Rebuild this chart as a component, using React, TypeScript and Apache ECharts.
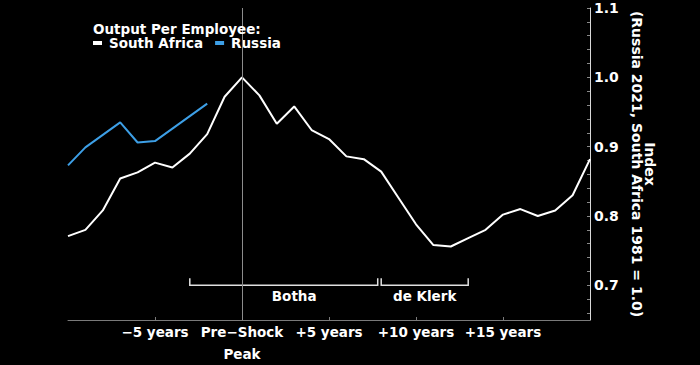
import React, { useEffect, useRef } from "react";
import * as echarts from "echarts";

const years = [-10, -9, -8, -7, -6, -5, -4, -3, -2, -1, 0, 1, 2, 3, 4, 5, 6, 7, 8, 9, 10, 11, 12, 13, 14, 15, 16, 17, 18, 19, 20];
const southAfrica = [0.771, 0.780, 0.808, 0.854, 0.863, 0.877, 0.870, 0.890, 0.918, 0.972, 1.0, 0.974, 0.933, 0.958, 0.924, 0.911, 0.886, 0.882, 0.864, 0.826, 0.788, 0.758, 0.756, 0.768, 0.780, 0.802, 0.810, 0.800, 0.808, 0.830, 0.882];
const russiaYears = [-10, -9, -8, -7, -6, -5, -4, -3, -2];
const russia = [0.873, 0.899, 0.917, 0.935, 0.906, 0.908, 0.926, 0.944, 0.962];

const xTickValues = [-5, 0, 5, 10, 15];
const xTickLabels = ["\u22125 years", "Pre\u2212Shock\nPeak", "+5 years", "+10 years", "+15 years"];
const yLabelValues = [0.7, 0.8, 0.9, 1.0, 1.1];
const yMinorTicks = [0.66, 0.68, 0.7, 0.72, 0.74, 0.76, 0.78, 0.8, 0.82, 0.84, 0.86, 0.88, 0.9, 0.92, 0.94, 0.96, 0.98, 1.0, 1.02, 1.04, 1.06, 1.08, 1.1];

const bracketNames = ["Botha", "de Klerk"];
const bracketStart = [-3, 8];
const bracketEnd = [7.8, 13];
const bracketLabelAt = [3, 10.5];

const FONT = '"DejaVu Sans", Verdana, sans-serif';

export default function App() {
  const ref = useRef<HTMLDivElement>(null);
  useEffect(() => {
    if (!ref.current) return;
    const chart = echarts.init(ref.current, null, { renderer: "svg" });
    const txt = { color: "#ffffff", fontFamily: FONT, fontWeight: "bold" as const, fontSize: 13.5 };
    chart.setOption({
      animation: false,
      backgroundColor: "#000000",
      title: {
        text: "Output Per Employee:",
        left: 93,
        top: 22,
        padding: 0,
        textStyle: { ...txt, lineHeight: 13 },
      },
      legend: {
        left: 93,
        top: 36,
        padding: 0,
        icon: "rect",
        itemWidth: 9,
        itemHeight: 4,
        itemGap: 12,
        textStyle: { ...txt, lineHeight: 13, padding: [0, 0, 0, 2] },
        data: ["South Africa", "Russia"],
      },
      grid: { left: 68, right: 110, top: 8, bottom: 41, containLabel: false },
      xAxis: {
        type: "value",
        min: -10,
        max: 20,
        interval: 5,
        axisLine: { show: true, onZero: false, lineStyle: { color: "#7a7a7a", width: 1 } },
        axisTick: { show: true, inside: true, length: 3, customValues: xTickValues, lineStyle: { color: "#7a7a7a" } },
        splitLine: { show: false },
        axisLabel: {
          ...txt,
          margin: 1,
          lineHeight: 22,
          customValues: xTickValues,
          formatter: (v: number) => {
            const i = xTickValues.indexOf(v);
            return i >= 0 ? xTickLabels[i] : "";
          },
        },
      },
      yAxis: {
        type: "value",
        position: "right",
        min: 0.65,
        max: 1.1,
        axisLine: { show: true, onZero: false, lineStyle: { color: "#d8d8d8", width: 1 } },
        axisTick: { show: true, inside: true, length: 3, customValues: yMinorTicks, lineStyle: { color: "#8a8a8a" } },
        splitLine: { show: false },
        axisLabel: {
          ...txt,
          fontSize: 14,
          margin: 4,
          customValues: yLabelValues,
          formatter: (v: number) => v.toFixed(1),
        },
        name: "Index\n(Russia 2021, South Africa 1981 = 1.0)",
        nameLocation: "middle",
        nameRotate: -90,
        nameGap: 31,
        nameTextStyle: { ...txt, fontSize: 14, lineHeight: 13, align: "center" },
      },
      series: [
        {
          name: "South Africa",
          type: "line",
          data: years.map((y, i) => [y, southAfrica[i]]),
          showSymbol: false,
          symbol: "none",
          color: "#ffffff",
          lineStyle: { color: "#ffffff", width: 2 },
          z: 3,
          markLine: {
            silent: true,
            symbol: "none",
            label: { show: false },
            lineStyle: { color: "#8c8c8c", width: 1, type: "solid" },
            data: [{ xAxis: 0 }],
          },
        },
        {
          name: "Russia",
          type: "line",
          data: russiaYears.map((y, i) => [y, russia[i]]),
          showSymbol: false,
          symbol: "none",
          color: "#3d9fe6",
          lineStyle: { color: "#3d9fe6", width: 2 },
          z: 3,
        },
        {
          name: "brackets",
          type: "custom",
          silent: true,
          data: bracketNames.map((n, i) => ({ name: n, value: [bracketStart[i], 0.7, bracketEnd[i], bracketLabelAt[i]] })),
          encode: { x: 0, y: 1 },
          renderItem: (params: any, api: any) => {
            const a = api.coord([api.value(0), api.value(1)]);
            const b = api.coord([api.value(2), api.value(1)]);
            const l = api.coord([api.value(3), api.value(1)]);
            const h = 7;
            return {
              type: "group",
              children: [
                {
                  type: "polyline",
                  shape: { points: [[a[0], a[1] - h], [a[0], a[1]], [b[0], b[1]], [b[0], b[1] - h]] },
                  style: { stroke: "#e0e0e0", lineWidth: 1.5, fill: null },
                },
                {
                  type: "text",
                  x: l[0],
                  y: a[1] + 11,
                  style: {
                    text: bracketNames[params.dataIndex],
                    fill: "#ffffff",
                    font: `bold 13.5px ${FONT}`,
                    align: "center",
                    verticalAlign: "middle",
                  },
                },
              ],
            };
          },
        },
      ],
    });
    return () => chart.dispose();
  }, []);
  return (
    <div
      ref={ref}
      style={{ position: "fixed", left: 0, top: 0, width: 700, height: 365, background: "#000" }}
    />
  );
}
